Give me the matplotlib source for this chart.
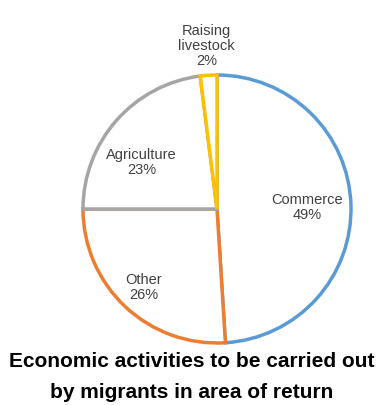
import numpy as np
import matplotlib.pyplot as plt

# Share of migrants by planned activity (percent)
activities = ["Commerce", "Other", "Agriculture", "Raising\nlivestock"]
shares = [49, 26, 23, 2]
edge_colors = ["#5B9BD5", "#ED7D31", "#A5A5A5", "#FFC000"]

# where each label sits, as fraction of the radius and angle tweak (deg)
label_dist = [0.67, 0.80, 0.66, 1.22]
label_shift = [-1, 0, 10, 0]

fig = plt.figure(figsize=(3.84, 4.05), dpi=100)
ax = fig.add_axes([0, 0, 1, 1])

cx, cy, r = 217, 196, 134
wedges, _ = ax.pie(shares, center=(cx, cy), radius=r, startangle=90,
                   counterclock=False, colors=["white"] * len(shares),
                   wedgeprops=dict(linewidth=2.5, edgecolor="none"),
                   frame=True)
for w, c in zip(wedges, edge_colors):
    w.set_edgecolor(c)

for w, name, v, d, s in zip(wedges, activities, shares, label_dist, label_shift):
    ang = np.deg2rad((w.theta1 + w.theta2) / 2 + s)
    ax.text(cx + d * r * np.cos(ang), cy + d * r * np.sin(ang),
            f"{name}\n{v}%", ha="center", va="center", fontsize=10.5,
            color="#404040", linespacing=1.1, family="Liberation Sans")

ax.set_xlim(0, 384)
ax.set_ylim(0, 405)
ax.set_aspect("equal")
ax.axis("off")

fig.text(0.5, 1 - 377 / 405, "Economic activities to be carried out\nby migrants in area of return",
         ha="center", va="center", fontsize=15, fontweight="bold",
         family="Liberation Sans", linespacing=1.75)

fig.savefig("out.png", dpi=100, facecolor="white")
